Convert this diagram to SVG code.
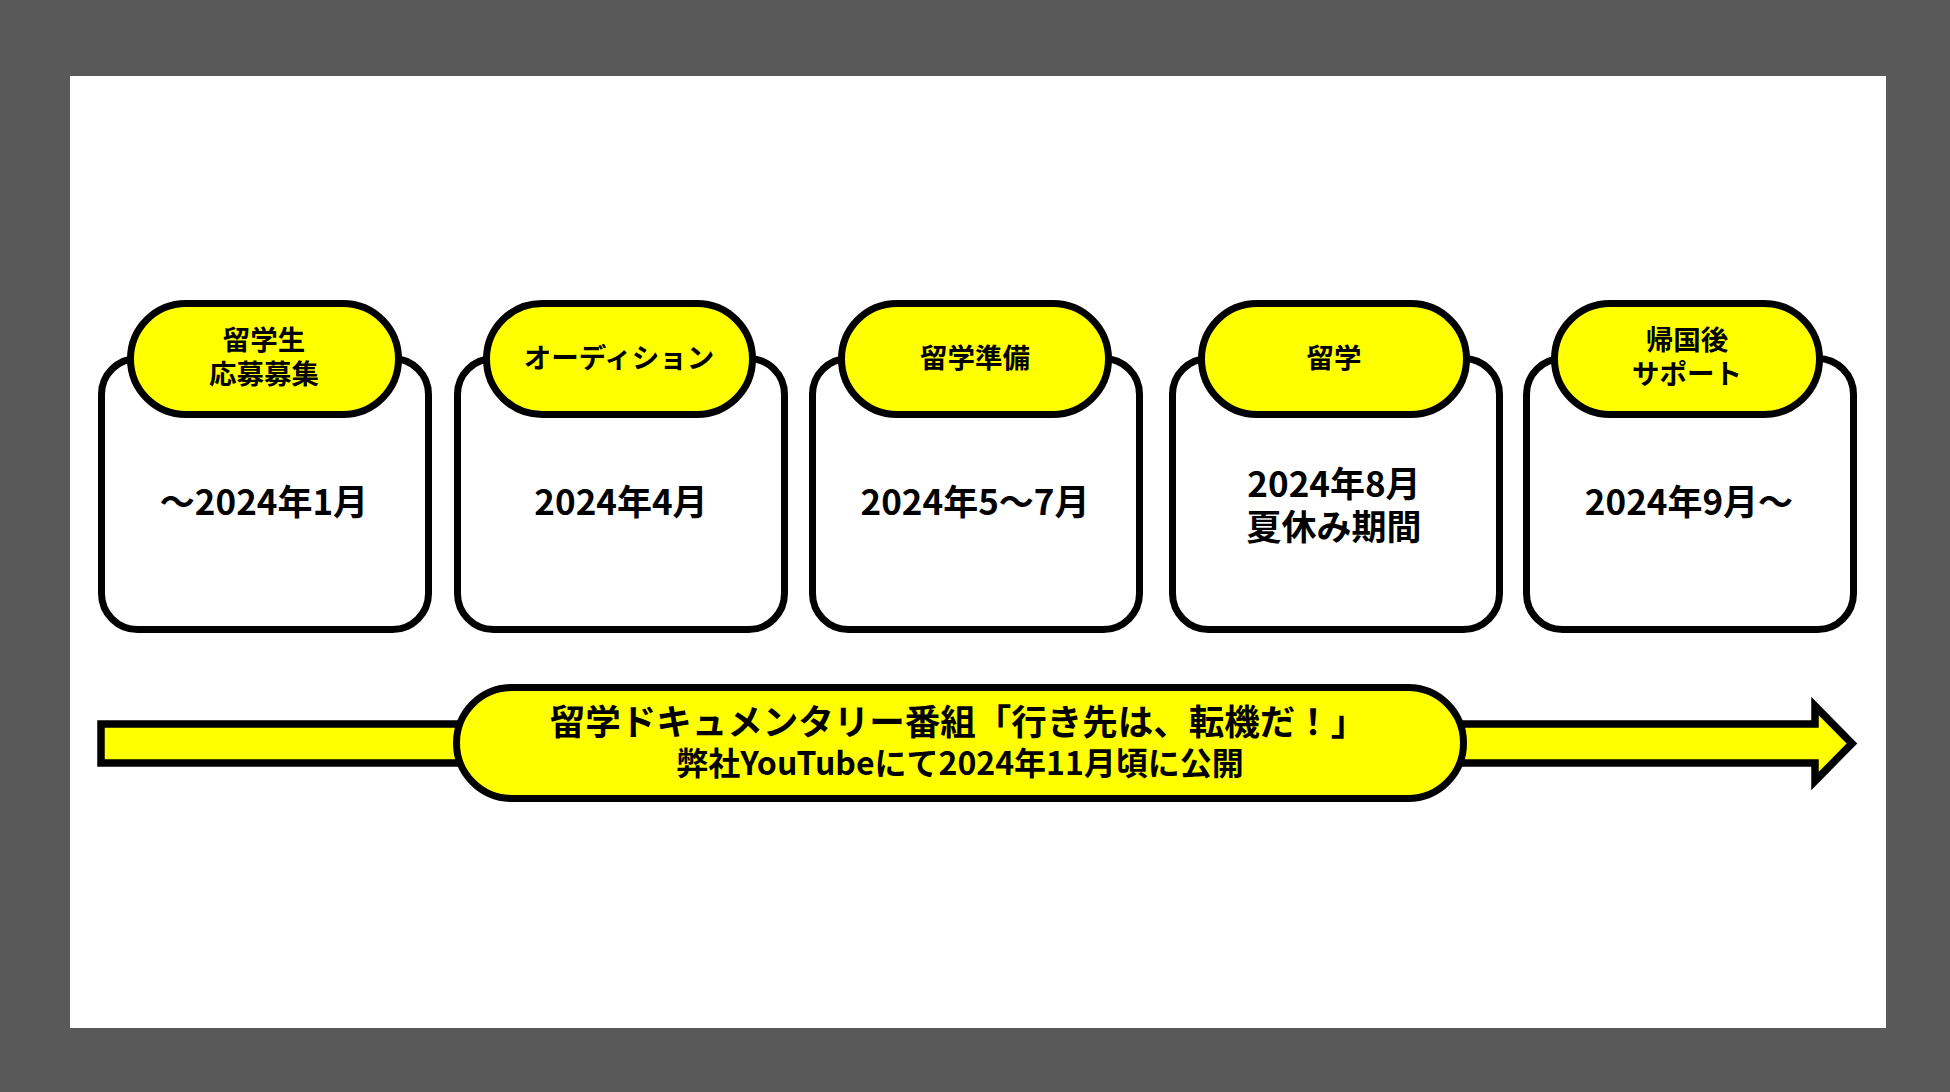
<svg xmlns="http://www.w3.org/2000/svg" width="1950" height="1092" viewBox="0 0 1950 1092">
  <style>
    .box { fill: #ffffff; stroke: #000000; stroke-width: 7; }
    .pill { fill: #ffff00; stroke: #000000; stroke-width: 7; }
    .arrow { fill: #ffff00; stroke: #000000; stroke-width: 7.5; stroke-linejoin: miter; stroke-miterlimit: 10; }
    text { font-family: "Noto Sans CJK JP", "Noto Sans", sans-serif; font-weight: 700; fill: #000000; text-anchor: middle; dominant-baseline: central; }
    .lbl { font-size: 27.5px; }
    .date { font-size: 35px; }
    .title { font-size: 35.5px; }
    .sub { font-size: 32px; }
  </style>
  <rect x="0" y="0" width="1950" height="1092" fill="#595959"/>
  <rect x="70" y="76" width="1816" height="952" fill="#ffffff"/>

  <g id="connectors">
    <polygon class="arrow" points="101,724 1815,724 1815,706 1852,743.5 1815,781 1815,763 101,763"/>
  </g>

  <g id="node-1">
    <rect class="box" x="101.5" y="358.5" width="327" height="271" rx="36"/>
    <rect class="pill" x="130.5" y="303.5" width="268" height="111" rx="55.5"/>
    <text class="lbl" x="264" y="338">留学生</text>
    <text class="lbl" x="264" y="372">応募募集</text>
    <text class="date" x="264" y="499">〜2024年1月</text>
  </g>

  <g id="node-2">
    <rect class="box" x="457.5" y="358.5" width="327" height="271" rx="36"/>
    <rect class="pill" x="486.5" y="303.5" width="266" height="111" rx="55.5"/>
    <text class="lbl" x="619" y="356">オーディション</text>
    <text class="date" x="621" y="499">2024年4月</text>
  </g>

  <g id="node-3">
    <rect class="box" x="812.5" y="358.5" width="327" height="271" rx="36"/>
    <rect class="pill" x="841.5" y="303.5" width="267" height="111" rx="55.5"/>
    <text class="lbl" x="975" y="356">留学準備</text>
    <text class="date" x="975" y="499">2024年5〜7月</text>
  </g>

  <g id="node-4">
    <rect class="box" x="1172.5" y="358.5" width="327" height="271" rx="36"/>
    <rect class="pill" x="1201.5" y="303.5" width="265" height="111" rx="55.5"/>
    <text class="lbl" x="1334" y="356">留学</text>
    <text class="date" x="1334" y="481">2024年8月</text>
    <text class="date" x="1334" y="524">夏休み期間</text>
  </g>

  <g id="node-5">
    <rect class="box" x="1526.5" y="358.5" width="327" height="271" rx="36"/>
    <rect class="pill" x="1554.5" y="303.5" width="265" height="111" rx="55.5"/>
    <text class="lbl" x="1687" y="338">帰国後</text>
    <text class="lbl" x="1687" y="372">サポート</text>
    <text class="date" x="1689" y="499">2024年9月〜</text>
  </g>

  <g id="node-program">
    <rect class="pill" x="456.5" y="687.5" width="1007" height="111" rx="55.5"/>
    <text class="title" x="958" y="719">留学ドキュメンタリー番組「行き先は、転機だ！」</text>
    <text class="sub" x="960" y="761">弊社YouTubeにて2024年11月頃に公開</text>
  </g>
</svg>
